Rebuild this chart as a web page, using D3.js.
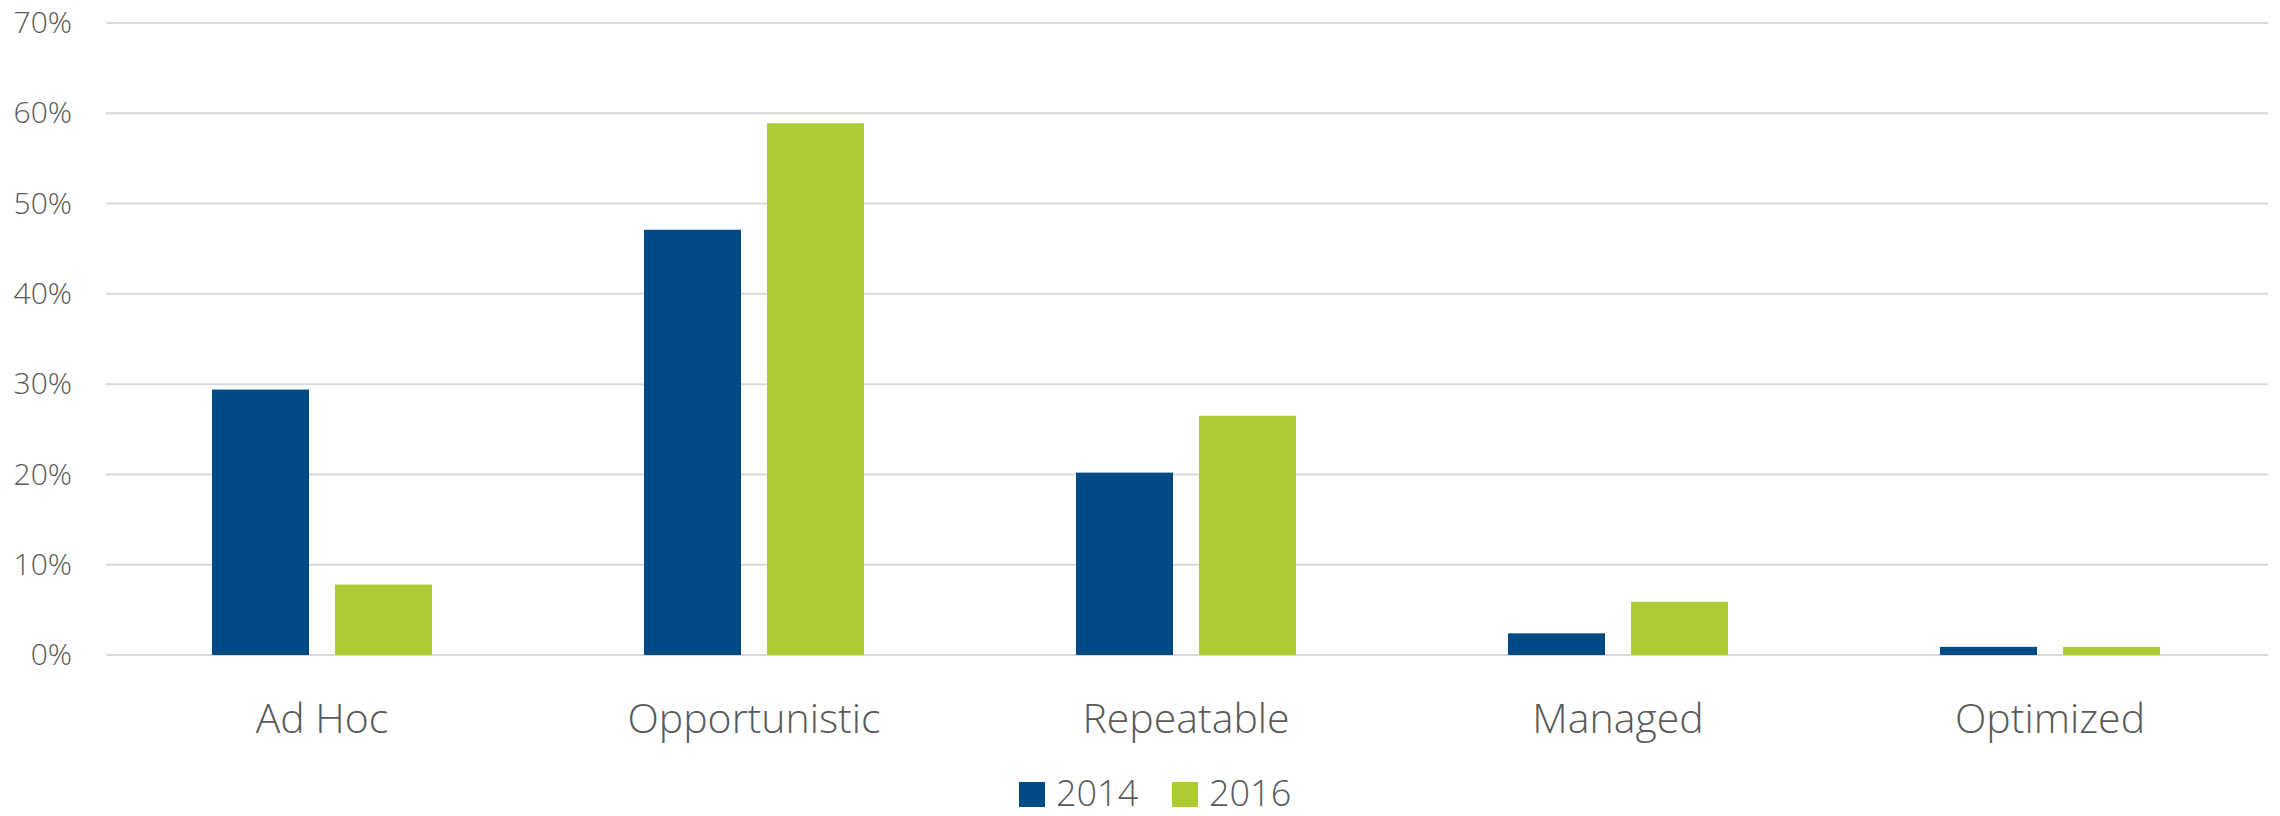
<!DOCTYPE html>
<html>
<head>
<meta charset="utf-8">
<script src="https://cdn.jsdelivr.net/npm/d3@7"></script>
<style>
  html, body { margin: 0; padding: 0; background: #fff; }
  svg { display: block; font-family: "Segoe UI", "Open Sans", sans-serif; font-weight: 300; }
</style>
</head>
<body>
<svg id="chart"></svg>
<script>
  // Data
  const categories = ["Ad Hoc", "Opportunistic", "Repeatable", "Managed", "Optimized"];
  const series = ["2014", "2016"];
  const values2014 = [29.4, 47.1, 20.2, 2.4, 0.9];
  const values2016 = [7.8, 58.9, 26.5, 5.9, 0.9];
  const yTicks = [0, 10, 20, 30, 40, 50, 60, 70];

  const colors = ["#004b85", "#adcb33"];
  const textColor = "#595959";

  const width = 2280;
  const height = 816;

  const svg = d3.select("#chart")
      .attr("width", width)
      .attr("height", height);

  // Scales
  const x0 = d3.scaleBand()
      .domain(categories)
      .range([106, 2266])
      .padding(0);

  const x1 = d3.scaleBand()
      .domain(series)
      .range([0, x0.bandwidth()])
      .paddingInner(0.211)
      .paddingOuter(0.862);

  const y = d3.scaleLinear()
      .domain([0, 70])
      .range([655, 23]);

  // Gridlines
  svg.append("g")
    .selectAll("line")
    .data(yTicks)
    .join("line")
      .attr("x1", 106)
      .attr("x2", 2268)
      .attr("y1", d => y(d))
      .attr("y2", d => y(d))
      .attr("stroke", "#d9d9d9")
      .attr("stroke-width", 2);

  // Y axis labels
  const yAxis = svg.append("g")
      .attr("transform", "translate(72,0)")
      .call(d3.axisLeft(y).tickValues(yTicks).tickSize(0).tickPadding(0).tickFormat(d => d + "%"))
      .attr("font-family", null)
      .attr("font-size", null);
  yAxis.select(".domain").remove();
  yAxis.selectAll("text")
      .attr("fill", textColor)
      .style("font-size", "30px");

  // Bars
  const rows = categories.map((c, i) => ({ category: c, values: [values2014[i], values2016[i]] }));

  svg.append("g")
    .selectAll("g")
    .data(rows)
    .join("g")
      .attr("transform", d => `translate(${x0(d.category)},0)`)
    .selectAll("rect")
    .data(d => d.values.map((v, j) => ({ key: series[j], value: v, color: colors[j] })))
    .join("rect")
      .attr("x", d => x1(d.key))
      .attr("width", x1.bandwidth())
      .attr("y", d => y(d.value))
      .attr("height", d => y(0) - y(d.value))
      .attr("fill", d => d.color);

  // X axis labels
  const xAxis = svg.append("g")
      .attr("transform", "translate(0,655)")
      .call(d3.axisBottom(x0).tickSize(0).tickPadding(0))
      .attr("font-family", null)
      .attr("font-size", null);
  xAxis.select(".domain").remove();
  xAxis.selectAll("text")
      .attr("dy", null)
      .attr("y", 78)
      .attr("fill", textColor)
      .style("font-size", "41px");

  // Legend
  const legendX = [1019, 1172];
  const legend = svg.append("g")
    .selectAll("g")
    .data(series)
    .join("g")
      .attr("transform", (d, i) => `translate(${legendX[i]},782)`);

  legend.append("rect")
      .attr("width", 26)
      .attr("height", 25)
      .attr("fill", (d, i) => colors[i]);

  legend.append("text")
      .attr("x", 37)
      .attr("y", 24)
      .attr("fill", textColor)
      .style("font-size", "36px")
      .text(d => d);
</script>
</body>
</html>
